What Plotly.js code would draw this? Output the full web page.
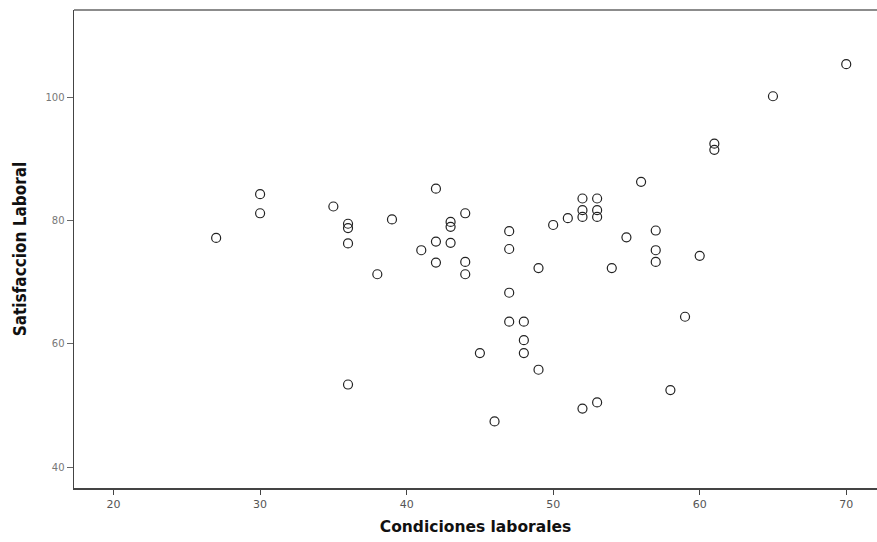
<!DOCTYPE html>
<html>
<head>
<meta charset="utf-8">
<script src="https://cdn.plot.ly/plotly-3.0.1.min.js"></script>
<style>html,body{margin:0;padding:0;background:#fff;}#chart{width:877px;height:542px;}</style>
</head>
<body>
<div id="chart"></div>
<script>
// Condiciones laborales (x) and Satisfaccion Laboral (y)
const condiciones = [27, 30, 30, 35, 36, 36, 36, 36, 38, 39, 41, 42, 42, 42, 43, 43, 43, 44, 44, 44,
  45, 46, 47, 47, 47, 47, 48, 48, 48, 49, 49, 50, 51, 52, 52, 52, 52, 53, 53, 53, 53,
  54, 55, 56, 57, 57, 57, 58, 59, 60, 61, 61, 65, 70];
const satisfaccion = [77.2, 84.3, 81.2, 82.3, 79.5, 78.8, 76.3, 53.4, 71.3, 80.2, 75.2, 85.2, 76.6, 73.2, 79.8, 79.0, 76.4, 81.2, 73.3, 71.3,
  58.5, 47.4, 78.3, 75.4, 68.3, 63.6, 63.6, 60.6, 58.5, 72.3, 55.8, 79.3, 80.4, 83.6, 81.7, 80.6, 49.5, 83.6, 81.7, 80.6, 50.5,
  72.3, 77.3, 86.3, 78.4, 75.2, 73.3, 52.5, 64.4, 74.3, 92.5, 91.5, 100.2, 105.4];
const xTicks = [20, 30, 40, 50, 60, 70];
const yTicks = [40, 60, 80, 100];
const xLabel = 'Condiciones laborales';
const yLabel = 'Satisfaccion Laboral';

const trace = {
  type: 'scatter',
  mode: 'markers',
  x: condiciones,
  y: satisfaccion,
  marker: {symbol: 'circle-open', size: 9, color: '#222', line: {width: 1.2, color: '#222'}},
  hoverinfo: 'x+y'
};

const layout = {
  width: 877, height: 542,
  margin: {l: 74, r: 0, t: 10, b: 54},
  paper_bgcolor: '#fff', plot_bgcolor: '#fff',
  showlegend: false,
  font: {family: 'Liberation Sans, Arial, sans-serif', color: '#333'},
  xaxis: {
    range: [17.3, 72.1], tickvals: xTicks, ticktext: xTicks.map(String),
    showgrid: false, zeroline: false,
    showline: true, linecolor: '#444', linewidth: 1.5,
    ticks: 'outside', ticklen: 5, tickwidth: 1.2, tickcolor: '#444',
    tickfont: {size: 11, color: '#555', family: 'DejaVu Sans, sans-serif'},
    title: {text: '<b>' + xLabel + '</b>', font: {size: 15.5, color: '#111', family: 'DejaVu Sans, sans-serif'}, standoff: 11}
  },
  yaxis: {
    range: [36.6, 114.2], tickvals: yTicks, ticktext: yTicks.map(String),
    showgrid: false, zeroline: false,
    showline: true, linecolor: '#444', linewidth: 1.5,
    ticks: 'outside', ticklen: 6, tickwidth: 1, tickcolor: '#666',
    tickfont: {size: 10, color: '#777', family: 'DejaVu Sans, sans-serif'},
    title: {text: '<b>' + yLabel + '</b>', font: {size: 17, color: '#111', family: 'DejaVu Sans Condensed, Liberation Sans Narrow, sans-serif'}, standoff: 14}
  },
  shapes: [
    {type: 'line', xref: 'paper', yref: 'paper', x0: 0, x1: 1, y0: 1, y1: 1, line: {color: '#666', width: 1.5}}
  ]
};

Plotly.newPlot('chart', [trace], layout, {displayModeBar: false, staticPlot: true});
</script>
</body>
</html>
